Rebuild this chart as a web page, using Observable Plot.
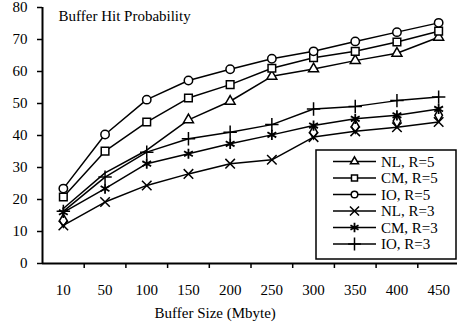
<!DOCTYPE html>
<html><head><meta charset="utf-8">
<script src="https://cdn.jsdelivr.net/npm/d3@7"></script>
<script src="https://cdn.jsdelivr.net/npm/@observablehq/plot@0.6"></script>
<style>body{margin:0;background:#fff}</style>
</head><body><div id="chart"></div>
<script>
const sizes = [10, 50, 100, 150, 200, 250, 300, 350, 400, 450];
const seriesNames = ["NL, R=5", "CM, R=5", "IO, R=5", "NL, R=3", "CM, R=3", "IO, R=3"];
const seriesSymbols = ["triangle", "square", "circle", "times", "asterisk", "plus"];
const nl5 = [17.2, 28.3, 35.4, 44.9, 50.7, 58.5, 60.8, 63.4, 65.7, 70.7];
const cm5 = [20.8, 35.1, 44.2, 51.7, 55.9, 61, 64.3, 66.3, 69.2, 72.6];
const io5 = [23.4, 40.3, 51.2, 57.2, 60.7, 64, 66.3, 69.4, 72.3, 75.2];
const nl3 = [11.9, 19.2, 24.4, 28, 31.2, 32.4, 39.5, 41.3, 42.6, 44.2];
const cm3 = [16, 23.4, 31.2, 34.3, 37.4, 40.2, 43.1, 45.2, 46.3, 48.3];
const io3 = [16.3, 27, 34.8, 39, 41, 43.4, 48.3, 49.1, 50.9, 52];
const extraDiamond = [13.4, null, null, null, null, null, 41, 42.8, 44.5, 46.3];
// sizes at which the NL, R=5 triangle marker is not visible in the source figure
const nl5HiddenMarkerSizes = [10, 50, 100];
const yTicks = [0, 10, 20, 30, 40, 50, 60, 70, 80];
const titleText = "Buffer Hit Probability";
const xLabel = "Buffer Size (Mbyte)";

const seriesValues = [nl5, cm5, io5, nl3, cm3, io3];
const rows = seriesValues.flatMap((vs, s) => vs.map((v, i) => ({series: seriesNames[s], i, v})));
const dotRows = rows.filter(d => !(d.series === seriesNames[0] && nl5HiddenMarkerSizes.includes(sizes[d.i])));
const diamondRows = extraDiamond.map((v, i) => ({i, v})).filter(d => d.v != null);

const font = "'Liberation Serif', 'Times New Roman', serif";
const symbolR = {triangle: 3.7, square: 4.3, circle: 4.2, times: 4.4, asterisk: 4.8, plus: 4.4, diamond: 4.0};
const legendR = {triangle: 3.0, square: 3.4, circle: 3.3, times: 4.2, asterisk: 4.4, plus: 4.2};

const dotMarks = seriesNames.map((name, k) =>
  Plot.dot(dotRows.filter(d => d.series === name), {
    x: "i", y: "v", symbol: () => seriesSymbols[k], r: symbolR[seriesSymbols[k]],
    stroke: "#000", fill: "#fff", strokeWidth: seriesSymbols[k] === "asterisk" ? 1.8 : 1.5
  })
);

const plot = Plot.plot({
  width: 457,
  height: 324,
  marginLeft: 42,
  marginTop: 7,
  marginRight: 0,
  marginBottom: 61,
  style: {fontFamily: font, fontSize: "15px", color: "#000", background: "#fff"},
  x: {type: "linear", domain: [-0.5, sizes.length - 0.5], range: [42, 459]},
  y: {domain: [0, 80]},
  marks: [
    Plot.axisY(yTicks, {tickSize: 5, tickPadding: 10, label: null, fontSize: 15, strokeWidth: 1.5}),
    Plot.axisX(d3.range(sizes.length), {tickSize: 0, tickPadding: 21, tickFormat: i => String(sizes[i]), label: null, fontSize: 15}),
    Plot.axisX(d3.range(0.5, sizes.length - 1), {tickSize: 5, tickFormat: () => "", label: null, strokeWidth: 1.5}),
    Plot.ruleX([-0.5], {strokeWidth: 2}),
    Plot.ruleY([0], {strokeWidth: 2}),
    Plot.line(rows, {x: "i", y: "v", z: "series", stroke: "#000", strokeWidth: 1.5}),
    Plot.dot(diamondRows, {x: "i", y: "v", symbol: () => "diamond", r: symbolR.diamond, stroke: "#000", fill: "none", strokeWidth: 1.5}),
    ...dotMarks,
    Plot.text([titleText], {frameAnchor: "top-left", dx: 16, dy: 3, textAnchor: "start", lineAnchor: "top", fontSize: 15}),
    Plot.text([xLabel], {frameAnchor: "bottom-left", dx: 112, dy: 50, textAnchor: "start", lineAnchor: "middle", fontSize: 15})
  ]
});

// legend
const symMap = {triangle: d3.symbolTriangle, square: d3.symbolSquare, circle: d3.symbolCircle,
  times: d3.symbolTimes, asterisk: d3.symbolAsterisk, plus: d3.symbolPlus};
const svg = d3.select(plot);
const lg = svg.append("g").attr("font-family", font).attr("font-size", 15).attr("text-anchor", "start");
lg.append("rect").attr("x", 316).attr("y", 150).attr("width", 140).attr("height", 109)
  .attr("fill", "#fff").attr("stroke", "#000").attr("stroke-width", 1.5);
seriesNames.forEach((name, k) => {
  const y = 161.5 + k * 16.5;
  const sym = seriesSymbols[k];
  lg.append("line").attr("x1", 333).attr("x2", 376).attr("y1", y).attr("y2", y)
    .attr("stroke", "#000").attr("stroke-width", 1.5);
  lg.append("path").attr("transform", `translate(354.5,${y})`)
    .attr("d", d3.symbol(symMap[sym], Math.PI * legendR[sym] * legendR[sym])())
    .attr("fill", "#fff").attr("stroke", "#000").attr("stroke-width", sym === "asterisk" ? 1.8 : 1.5);
  lg.append("text").attr("x", 381).attr("y", y).attr("dy", "0.35em").attr("text-anchor", "start").text(name);
});

document.getElementById("chart").appendChild(plot);
</script>
</body></html>
